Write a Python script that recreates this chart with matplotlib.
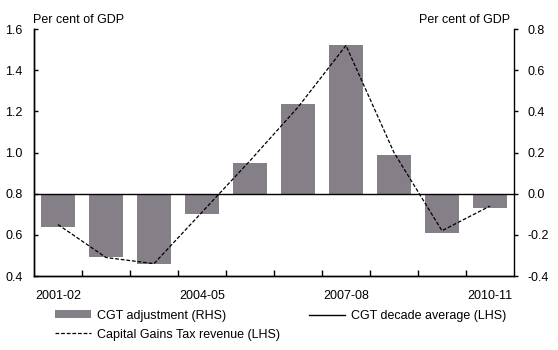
import numpy as np
import matplotlib
matplotlib.use("Agg")
import matplotlib.pyplot as plt
from matplotlib.lines import Line2D
from matplotlib.patches import Patch

plt.rcParams['font.family'] = ['Liberation Sans', 'DejaVu Sans']

years = ["2001-02", "2002-03", "2003-04", "2004-05", "2005-06",
         "2006-07", "2007-08", "2008-09", "2009-10", "2010-11"]
# CGT adjustment, per cent of GDP (RHS)
adjustment = [-0.16, -0.31, -0.34, -0.10, 0.15, 0.435, 0.72, 0.19, -0.19, -0.07]
# Capital Gains Tax revenue, per cent of GDP (LHS)
revenue = [0.65, 0.49, 0.46, 0.71, 0.96, 1.22, 1.52, 1.00, 0.62, 0.74]
# decade average (LHS)
decade_avg = 0.8
shown_labels = ["2001-02", "2004-05", "2007-08", "2010-11"]

x = np.arange(len(years))

fig = plt.figure(figsize=(5.58, 3.5), dpi=100)
ax = fig.add_axes([0.0609, 0.2114, 0.8602, 0.7057])
ax2 = ax.twinx()

bar_col = "#857f87"
ax2.bar(x, adjustment, width=0.69, color=bar_col, edgecolor="none")
ax2.set_ylim(-0.4, 0.8)
ax2.set_yticks(np.arange(-0.4, 0.81, 0.2))
ax2.set_yticklabels([f"{v:.1f}" for v in np.arange(-0.4, 0.81, 0.2)])

ax.set_zorder(ax2.get_zorder() + 1)
ax.patch.set_visible(False)
ax.axhline(decade_avg, color="black", lw=1.0)
ax.plot(x, revenue, color="black", lw=0.9, ls=(0, (3, 1.5)))
ax.set_ylim(0.4, 1.6)
ax.set_xlim(-0.5, len(years) - 0.5)
ax.set_yticks(np.arange(0.4, 1.61, 0.2))
ax.set_yticklabels([f"{v:.1f}" for v in np.arange(0.4, 1.61, 0.2)])

# x ticks: marks at category boundaries, labels at selected centres
ax.set_xticks(np.arange(0.5, len(years) - 0.5, 1.0))
ax.set_xticklabels([])
ax.tick_params(axis="x", which="major", direction="in", length=4, width=1)
ax.set_xticks([years.index(l) for l in shown_labels], minor=True)
ax.set_xticklabels(shown_labels, minor=True)
ax.tick_params(axis="x", which="minor", length=0, pad=10, labelsize=9)

ax.tick_params(axis="y", direction="in", length=3, width=1, pad=8, labelsize=9)
ax2.tick_params(axis="y", direction="out", length=3, width=1, pad=7, labelsize=9)

for a in (ax, ax2):
    a.spines["top"].set_visible(False)
    for s in a.spines.values():
        s.set_linewidth(1)
ax.spines["right"].set_visible(False)

fig.text(0.0591, 0.943, "Per cent of GDP", fontsize=9, ha="left", va="center")
fig.text(0.915, 0.943, "Per cent of GDP", fontsize=9, ha="right", va="center")

handles = [Patch(facecolor=bar_col, edgecolor="none"),
           Line2D([], [], color="black", lw=0.9, ls=(0, (3, 1.5))),
           Line2D([], [], color="black", lw=1.0)]
labels = ["CGT adjustment (RHS)", "Capital Gains Tax revenue (LHS)",
          "CGT decade average (LHS)"]
fig.legend(handles, labels, ncol=2, loc="upper left",
           bbox_to_anchor=(0.098, 0.115), frameon=False, fontsize=9,
           handlelength=2.9, handleheight=0.6, handletextpad=0.5,
           columnspacing=2.3, labelspacing=0.55, borderpad=0, borderaxespad=0)

fig.savefig("out.png", dpi=100)
